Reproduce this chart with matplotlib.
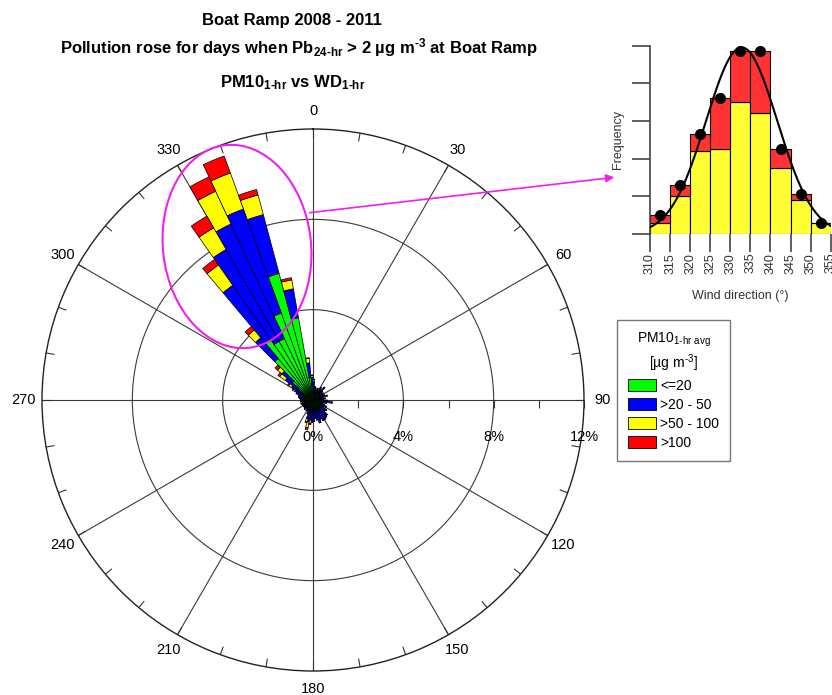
import numpy as np
import matplotlib
matplotlib.use("Agg")
import matplotlib.pyplot as plt
from matplotlib.patches import Patch, Ellipse

plt.rcParams['font.family'] = ['Liberation Sans', 'DejaVu Sans']
plt.rcParams['mathtext.default'] = 'regular'

# rose: 5 degree sectors, frequency (%) per PM10 class
sector_centres = np.arange(2.5, 360, 5)
green = [0.5, 0.4, 0.4, 0.35, 0.4, 0.35, 0.45, 0.4, 0.5, 0.4, 0.35, 0.4,
         0.35, 0.4, 0.45, 0.35, 0.4, 0.35, 0.45, 0.5, 0.4, 0.35, 0.4, 0.45,
         0.4, 0.45, 0.4, 0.4, 0.4, 0.4, 0.4, 0.4, 0.4, 0.4, 0.35, 0.4,
         0.4, 0.4, 0.4, 0.4, 0.4, 0.35, 0.4, 0.35, 0.4, 0.35, 0.4, 0.35,
         0.4, 0.35, 0.4, 0.35, 0.4, 0.35, 0.4, 0.4, 0.45, 0.4, 0.45, 0.5,
         0.6, 0.8, 1.2, 2.4, 3.3, 3.0, 3.0, 4.1, 5.8, 3.7, 1.0, 0.6]
blue = [0.3, 0.2, 0.15, 0.1, 0.15, 0.1, 0.2, 0.15, 0.25, 0.15, 0.1, 0.15,
        0.1, 0.15, 0.2, 0.1, 0.15, 0.1, 0.2, 0.35, 0.2, 0.1, 0.15, 0.2,
        0.15, 0.3, 0.3, 0.5, 0.55, 0.6, 0.6, 0.5, 0.6, 0.5, 0.45, 0.5,
        0.55, 0.5, 0.6, 0.45, 0.25, 0.15, 0.15, 0.1, 0.15, 0.15, 0.1, 0.15,
        0.1, 0.15, 0.15, 0.1, 0.15, 0.15, 0.15, 0.2, 0.2, 0.25, 0.3, 0.4,
        0.5, 0.7, 0.6, 1.2, 2.9, 4.7, 5.6, 4.9, 2.7, 1.3, 0.65, 0.4]
yellow = [0.1, 0, 0, 0, 0, 0, 0, 0, 0, 0, 0, 0,
          0, 0, 0, 0, 0, 0, 0, 0, 0, 0, 0, 0,
          0, 0, 0, 0, 0, 0, 0, 0, 0.05, 0, 0, 0.05,
          0.05, 0.15, 0.25, 0.15, 0, 0, 0, 0, 0, 0, 0, 0,
          0, 0, 0, 0, 0, 0, 0, 0, 0, 0, 0.05, 0.1,
          0.15, 0.3, 0.25, 0.45, 1.1, 1.1, 1.6, 1.7, 0.9, 0.4, 0.2, 0.1]
red = [0, 0, 0, 0, 0, 0, 0, 0, 0, 0, 0, 0,
       0, 0, 0, 0, 0, 0, 0, 0, 0, 0, 0, 0,
       0, 0, 0, 0, 0, 0, 0, 0, 0, 0, 0, 0,
       0, 0.05, 0.1, 0.05, 0, 0, 0, 0, 0, 0, 0, 0,
       0, 0, 0, 0, 0, 0, 0, 0, 0, 0, 0, 0,
       0.05, 0.1, 0.15, 0.2, 0.3, 0.6, 0.7, 0.8, 0.25, 0.1, 0.03, 0]
class_labels = ['<=20', '>20 - 50', '>50 - 100', '>100']
class_colors = ['#00ff00', '#0000ff', '#ffff00', '#ff0000']

# inset histogram of wind direction
hist_centres = [312.5, 317.5, 322.5, 327.5, 332.5, 337.5, 342.5, 347.5, 352.5]
hist_yellow = [0.6, 2.0, 4.4, 4.5, 7.0, 6.4, 3.5, 1.8, 0.6]
hist_red = [0.4, 0.6, 0.9, 2.7, 2.7, 3.3, 1.0, 0.3, 0.0]

W, H = 832, 695
magenta = '#f020f0'
HY = '\u2010'  # real hyphen inside mathtext (plain "-" becomes a spaced minus)


def px_box(x0, y0, x1, y1):
    return [x0 / W, 1 - y1 / H, (x1 - x0) / W, (y1 - y0) / H]


fig = plt.figure(figsize=(W / 100, H / 100), dpi=100)

fig.text(292 / W, 1 - 25 / H, 'Boat Ramp 2008 - 2011', ha='center',
         va='baseline', fontsize=12, fontweight='bold')
fig.text(299 / W, 1 - 53 / H,
         f'Pollution rose for days when Pb$_{{24{HY}hr}}$ > 2 µg m$^{{{HY}3}}$ at Boat Ramp',
         ha='center', va='baseline', fontsize=12, fontweight='bold')
fig.text(293 / W, 1 - 87 / H, f'PM10$_{{1{HY}hr}}$ vs WD$_{{1{HY}hr}}$',
         ha='center', va='baseline', fontsize=12, fontweight='bold')

# ---- pollution rose ----
ax = fig.add_axes(px_box(42, 129, 584, 671), projection='polar')
ax.set_theta_zero_location('N')
ax.set_theta_direction(-1)
ax.set_ylim(0, 12)
ax.set_xticks(np.deg2rad(np.arange(0, 360, 30)))
ax.set_xticklabels([])
ax.set_yticks([4, 8])
ax.set_yticklabels([])
ax.grid(True, color='#3a3a3a', lw=0.8)
ax.set_axisbelow(True)
ax.spines['polar'].set_color('#222222')
ax.spines['polar'].set_linewidth(1.0)

theta = np.deg2rad(sector_centres)
bottom = np.zeros(len(sector_centres))
for vals, col in zip([green, blue, yellow, red], class_colors):
    vals = np.array(vals)
    ax.bar(theta, vals, width=np.deg2rad(5), bottom=bottom, color=col,
           edgecolor='black', linewidth=0.5, zorder=3)
    bottom += vals

# small ticks on the outer ring and along the 90 degree axis
for a in range(0, 360, 10):
    ax.plot([np.deg2rad(a)] * 2, [11.65, 12], color='#333333', lw=0.8, zorder=2)
ax.plot(np.full(6, np.pi / 2), np.arange(2, 13, 2), ls='none', marker=3,
        ms=6, mew=0.8, color='#333333', clip_on=False)

for a in range(0, 360, 30):
    ax.text(np.deg2rad(a), 12.8, str(a), ha='center', va='center', fontsize=10.5)
for r in [0, 4, 8, 12]:
    ax.annotate(f'{r}%', xy=(np.pi / 2, r), xytext=(0, -26.5),
                textcoords='offset points', ha='center', va='center',
                fontsize=10.5, annotation_clip=False)

# ---- wind direction histogram ----
axh = fig.add_axes(px_box(650, 45.7, 830.7, 234))
axh.bar(hist_centres, hist_yellow, width=5, color='#ffff33',
        edgecolor='black', lw=0.8)
axh.bar(hist_centres, hist_red, width=5, bottom=hist_yellow, color='#ff3333',
        edgecolor='black', lw=0.8)
hist_total = np.array(hist_yellow) + np.array(hist_red)
axh.plot(hist_centres, hist_total, 'o', color='black', ms=7, zorder=4,
         clip_on=False)

# normal curve fitted to the bin totals
coef = np.polyfit(hist_centres, np.log(hist_total), 2, w=hist_total)
xs = np.linspace(310, 355, 200)
axh.plot(xs, np.exp(np.polyval(coef, xs)), color='black', lw=1.5, zorder=3)

axh.set_xlim(310, 355)
axh.set_ylim(0, 10)
for s in ['top', 'right', 'bottom']:
    axh.spines[s].set_visible(False)
axh.spines['left'].set_color('#444444')
axh.spines['left'].set_linewidth(1.2)
axh.set_xticks(range(310, 356, 5))
axh.set_yticks(range(0, 11, 2))
axh.set_yticklabels([])
axh.tick_params(direction='out', length=13, width=1.2, color='#444444')
axh.tick_params(axis='x', labelrotation=90, labelsize=9, pad=0.5,
                labelcolor='#333333')
axh.set_xlabel('Wind direction (°)', fontsize=9, color='#333333', labelpad=12)
axh.set_ylabel('Frequency', fontsize=9, color='#333333', labelpad=2)

# ---- legend ----
handles = [Patch(facecolor=c, edgecolor='black', lw=0.6, label=l)
           for c, l in zip(class_colors, class_labels)]
leg = fig.legend(handles=handles,
                 title=f'PM10$_{{1{HY}hr\\ avg}}$\n[µg m$^{{{HY}3}}$]',
                 loc='upper left', bbox_to_anchor=(617 / W, 1 - 320 / H),
                 borderaxespad=0, fontsize=10, title_fontsize=10,
                 frameon=True, fancybox=False, edgecolor='#555555',
                 borderpad=0.8, handlelength=2.0, handleheight=1.0,
                 handletextpad=0.3, labelspacing=0.35)
leg.get_frame().set_linewidth(1.0)
leg.get_title().set_multialignment('center')

# ---- highlight ellipse and arrow to the histogram ----
ov = fig.add_axes([0, 0, 1, 1], zorder=10)
ov.set_xlim(0, W)
ov.set_ylim(H, 0)
ov.axis('off')
ov.add_patch(Ellipse((237, 246.5), 148, 204, angle=-6.7, fill=False,
                     edgecolor=magenta, lw=1.5))
ov.annotate('', xy=(617, 177), xytext=(307, 213),
            arrowprops=dict(arrowstyle='-|>', color=magenta, lw=1.2,
                            mutation_scale=12))

fig.savefig('out.png', dpi=100)
